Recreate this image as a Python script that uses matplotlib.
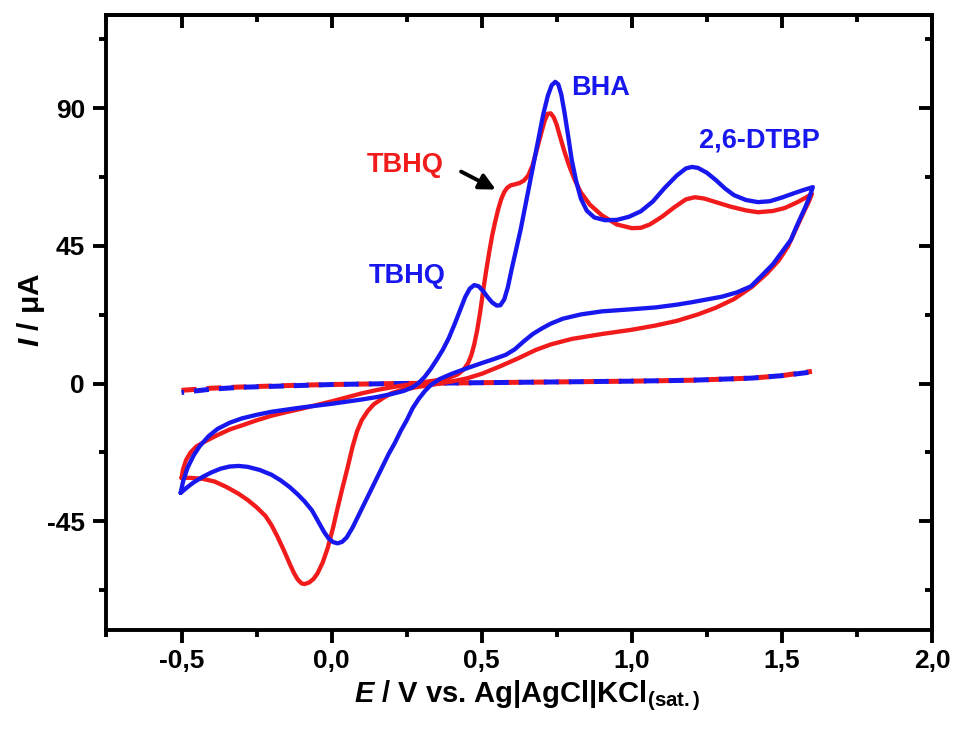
import numpy as np
import matplotlib
matplotlib.use("Agg")
import matplotlib.pyplot as plt
from matplotlib.ticker import MultipleLocator, FuncFormatter

# red CV: forward scan (-0.5 -> 1.6)
red_fwd_E = [-0.500, -0.495, -0.485, -0.47, -0.45, -0.42, -0.38, -0.34, -0.30, -0.25, -0.20, -0.15,
             -0.10, -0.05, 0.00, 0.05, 0.10, 0.15, 0.20, 0.25, 0.30, 0.35, 0.39, 0.42, 0.44, 0.455,
             0.465, 0.475, 0.485, 0.495, 0.505, 0.515, 0.525, 0.535, 0.545, 0.555, 0.565, 0.575,
             0.585, 0.597, 0.61, 0.625, 0.64, 0.655, 0.67, 0.685, 0.70, 0.71, 0.72, 0.73, 0.74, 0.75,
             0.76, 0.775, 0.79, 0.81, 0.83, 0.86, 0.90, 0.95, 1.00, 1.03, 1.06, 1.10, 1.14, 1.18,
             1.21, 1.24, 1.28, 1.33, 1.38, 1.42, 1.47, 1.51, 1.55, 1.58, 1.60]
red_fwd_I = [-30.8, -28.0, -25.0, -22.5, -20.5, -18.8, -16.8, -15.0, -13.7, -12.0, -10.5, -9.3,
             -8.2, -7.0, -5.8, -4.5, -3.2, -2.1, -1.2, -0.4, 0.4, 1.1, 1.9, 3.0, 4.6, 6.8,
             9.2, 12.8, 17.5, 23.5, 30.5, 37.0, 43.0, 48.5, 53.0, 57.0, 60.3, 62.6,
             64.0, 64.8, 65.1, 65.5, 66.3, 68.0, 71.5, 77.0, 82.5, 86.0, 88.2, 88.3, 87.0, 84.5,
             81.0, 76.0, 71.5, 66.5, 62.5, 58.5, 55.0, 52.0, 50.8, 50.9, 52.0, 54.5, 57.5, 60.2,
             60.9, 60.5, 59.3, 57.8, 56.6, 56.0, 56.4, 57.4, 59.2, 60.8, 62.0]
# red CV: reverse scan (1.6 -> -0.5)
red_rev_E = [1.59, 1.575, 1.56, 1.54, 1.52, 1.49, 1.45, 1.40, 1.34, 1.28, 1.22, 1.15, 1.08, 1.00,
             0.90, 0.80, 0.73, 0.68, 0.62, 0.56, 0.50, 0.45, 0.40, 0.34, 0.28, 0.23, 0.20, 0.17,
             0.14, 0.12, 0.10, 0.085, 0.07, 0.053, 0.035, 0.02, 0.005, -0.013, -0.03, -0.047, -0.06,
             -0.075, -0.09, -0.10, -0.113, -0.125, -0.14, -0.16, -0.18, -0.20, -0.22, -0.25, -0.28,
             -0.31, -0.35, -0.39, -0.43, -0.47, -0.50]
red_rev_I = [59.5, 56.5, 53.3, 49.0, 44.8, 40.3, 36.0, 31.6, 27.6, 24.8, 22.6, 20.5, 19.0, 17.6,
             16.2, 14.6, 12.8, 11.0, 8.2, 5.6, 3.2, 1.7, 0.7, -0.3, -1.2, -2.2, -3.1, -4.8,
             -6.8, -9.0, -12.0, -15.5, -20.5, -27.5, -34.5, -40.6, -47.0, -53.7, -58.5, -62.0, -63.8,
             -65.0, -65.5, -65.3, -64.0, -62.0, -58.8, -54.3, -50.1, -46.3, -43.3, -40.4, -38.0,
             -36.0, -33.8, -32.0, -31.1, -30.8, -30.8]

# blue CV: forward scan
blue_fwd_E = [-0.503, -0.495, -0.48, -0.46, -0.44, -0.41, -0.38, -0.34, -0.30, -0.25, -0.20, -0.15,
              -0.10, -0.05, 0.00, 0.05, 0.10, 0.15, 0.20, 0.24, 0.27, 0.29, 0.31, 0.33, 0.35, 0.37,
              0.39, 0.41, 0.43, 0.445, 0.46, 0.475, 0.49, 0.505, 0.52, 0.535, 0.55, 0.562, 0.575,
              0.587, 0.60, 0.615, 0.63, 0.645, 0.66, 0.675, 0.69, 0.705, 0.72, 0.733, 0.745, 0.755,
              0.765, 0.775, 0.787, 0.80, 0.815, 0.83, 0.85, 0.875, 0.91, 0.95, 0.99, 1.03, 1.07,
              1.11, 1.15, 1.18, 1.20, 1.22, 1.25, 1.28, 1.31, 1.34, 1.38, 1.42, 1.46, 1.50, 1.54,
              1.57, 1.603]
blue_fwd_I = [-35.7, -32.0, -27.5, -23.5, -20.5, -17.2, -14.8, -12.8, -11.4, -10.2, -9.2, -8.5,
              -7.8, -7.2, -6.6, -5.9, -5.2, -4.4, -3.4, -2.4, -1.2, 0.2, 2.2, 4.8, 7.8, 11.0,
              14.8, 19.5, 24.5, 28.3, 31.0, 32.2, 31.8, 30.2, 28.2, 26.5, 25.5, 25.6, 27.5,
              31.5, 37.5, 44.0, 50.5, 58.0, 65.5, 73.0, 80.5, 88.0, 94.0, 97.5, 98.6, 97.8,
              94.5, 89.0, 81.5, 73.0, 66.0, 60.5, 56.5, 54.3, 53.4, 53.5, 54.5, 56.3, 59.5,
              64.0, 68.0, 70.3, 70.8, 70.5, 68.9, 66.5, 63.8, 61.6, 60.0, 59.3, 59.6, 60.8, 62.2,
              63.2, 64.2]
# blue CV: reverse scan
blue_rev_E = [1.59, 1.575, 1.56, 1.545, 1.53, 1.50, 1.47, 1.43, 1.397, 1.35, 1.30, 1.25, 1.20, 1.15,
              1.08, 1.00, 0.90, 0.83, 0.77, 0.73, 0.70, 0.67, 0.64, 0.61, 0.58, 0.54, 0.50, 0.45,
              0.40, 0.36, 0.33, 0.31, 0.29, 0.27, 0.25, 0.23, 0.21, 0.19, 0.17, 0.15, 0.13, 0.11,
              0.09, 0.07, 0.05, 0.035, 0.02, 0.005, -0.01, -0.025, -0.045, -0.065, -0.09, -0.113,
              -0.14, -0.17, -0.20, -0.24, -0.28, -0.31, -0.34, -0.37, -0.40, -0.43, -0.46, -0.48, -0.503]
blue_rev_I = [60.5, 57.0, 53.8, 50.5, 47.0, 43.0, 39.0, 35.0, 31.8, 29.8, 28.4, 27.5, 26.6, 25.8,
              24.9, 24.3, 23.6, 22.6, 21.2, 19.6, 18.0, 16.2, 13.8, 11.2, 9.4, 8.0, 6.7, 5.0,
              3.2, 1.5, -0.5, -2.5, -5.0, -8.0, -12.0, -15.5, -19.5, -23.0, -27.0, -31.0, -35.0, -39.0,
              -43.0, -47.0, -50.3, -51.7, -52.2, -51.8, -50.6, -48.5, -45.0, -41.5, -38.5, -36.2,
              -33.8, -31.6, -29.8, -28.2, -27.2, -26.9, -27.1, -27.8, -29.0, -30.5, -32.3, -33.8, -35.7]

# blank (dashed) scans
blank_E = [-0.50, -0.40, -0.30, -0.20, -0.10, 0.00, 0.20, 0.40, 0.60, 0.80, 1.00, 1.20, 1.40, 1.50, 1.60]
blank_red_I = [-2.2, -1.5, -1.1, -0.8, -0.5, -0.3, 0.0, 0.2, 0.4, 0.6, 0.8, 1.1, 1.8, 2.6, 4.0]
blank_blue_I = [-2.9, -1.8, -1.2, -0.9, -0.6, -0.3, 0.0, 0.2, 0.4, 0.6, 0.8, 1.1, 1.8, 2.6, 3.8]

RED = '#f21b1b'
BLUE = '#1818ee'

plt.rcParams['font.family'] = ['Liberation Sans', 'DejaVu Sans']
plt.rcParams['font.weight'] = 'bold'
plt.rcParams['mathtext.fontset'] = 'custom'
plt.rcParams['mathtext.rm'] = 'Liberation Sans:bold'
plt.rcParams['mathtext.it'] = 'Liberation Sans:bold:italic'
plt.rcParams['mathtext.bf'] = 'Liberation Sans:bold'

fig = plt.figure(figsize=(9.56, 7.42), dpi=100)
ax = fig.add_axes([0.1114, 0.151, 0.8635, 0.829])

ax.plot(blank_E, blank_red_I, color=RED, lw=3.6, ls=(0, (3, 2)))
ax.plot(blank_E, blank_blue_I, color=BLUE, lw=3.6, ls=(2.5, (3, 2)))
ax.plot(red_fwd_E + red_rev_E, red_fwd_I + red_rev_I, color=RED, lw=3.1,
        solid_joinstyle='round', solid_capstyle='round')
ax.plot(blue_fwd_E + blue_rev_E, blue_fwd_I + blue_rev_I, color=BLUE, lw=3.1,
        solid_joinstyle='round', solid_capstyle='round')

fs_ann = 19.5
ax.text(0.797, 96.5, 'BHA', color=BLUE, fontsize=fs_ann, fontweight='bold', ha='left', va='center')
ax.text(1.223, 79.5, '2,6-DTBP', color=BLUE, fontsize=fs_ann, fontweight='bold', ha='left', va='center')
ax.text(0.123, 35.0, 'TBHQ', color=BLUE, fontsize=fs_ann, fontweight='bold', ha='left', va='center')
ax.text(0.117, 71.3, 'TBHQ', color=RED, fontsize=fs_ann, fontweight='bold', ha='left', va='center')
ax.annotate('', xy=(0.555, 63.0), xytext=(0.423, 69.7),
            arrowprops=dict(arrowstyle='-|>', color='black', lw=2.8, mutation_scale=24))

ax.set_xlim(-0.75, 2.0)
ax.set_ylim(-80.5, 120.5)
ax.xaxis.set_major_locator(MultipleLocator(0.5))
ax.xaxis.set_minor_locator(MultipleLocator(0.25))
ax.yaxis.set_major_locator(MultipleLocator(45))
ax.yaxis.set_minor_locator(MultipleLocator(22.5))
ax.xaxis.set_major_formatter(FuncFormatter(lambda v, p: ('%.1f' % v).replace('.', ',')))
ax.yaxis.set_major_formatter(FuncFormatter(lambda v, p: '%d' % v))

for s in ax.spines.values():
    s.set_linewidth(2.8)
ax.tick_params(which='both', direction='out', width=2.8, labelsize=19, top=False, right=False)
ax.tick_params(which='major', length=9.5, pad=6)
ax.tick_params(axis='x', which='major', pad=4)
ax.tick_params(which='minor', length=5)
# inward ticks on top/right
ax2 = ax.secondary_xaxis('top')
ax2.xaxis.set_major_locator(MultipleLocator(0.5))
ax2.xaxis.set_minor_locator(MultipleLocator(0.25))
ax2.tick_params(which='both', direction='in', width=2.8, labeltop=False)
ax2.tick_params(which='major', length=9.5)
ax2.tick_params(which='minor', length=5)
ax3 = ax.secondary_yaxis('right')
ax3.yaxis.set_major_locator(MultipleLocator(45))
ax3.yaxis.set_minor_locator(MultipleLocator(22.5))
ax3.tick_params(which='both', direction='in', width=2.8, labelright=False)
ax3.tick_params(which='major', length=9.5)
ax3.tick_params(which='minor', length=5)
for s in list(ax2.spines.values()) + list(ax3.spines.values()):
    s.set_linewidth(2.8)

for lab in ax.get_xticklabels() + ax.get_yticklabels():
    lab.set_fontweight('bold')

ax.set_xlabel(r'$\it{E}$ / V vs. Ag|AgCl|KCl$_{\rm{(sat.)}}$', fontsize=21, fontweight='bold', va='top')
ax.xaxis.set_label_coords(0.51, -0.078)
ax.set_ylabel(r'$\it{I}$ / μA', fontsize=21.5, fontweight='bold')
ax.yaxis.set_label_coords(-0.072, 0.52)

fig.savefig('out.png', dpi=100)
